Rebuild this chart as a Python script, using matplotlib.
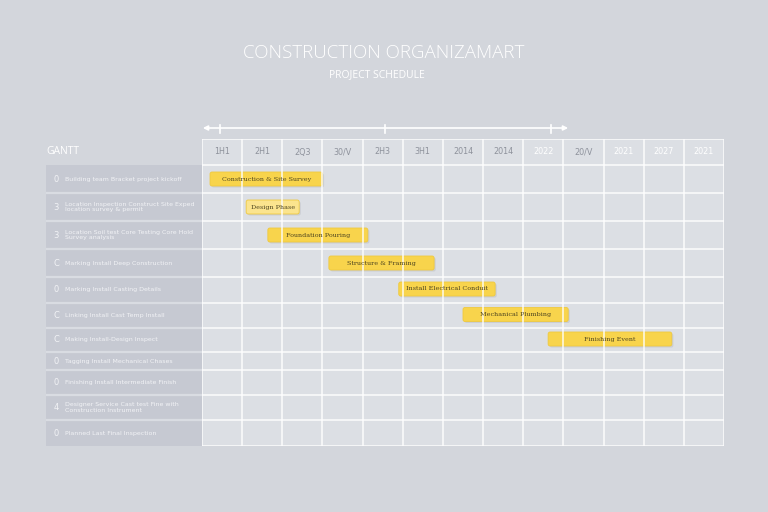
import matplotlib
matplotlib.use("Agg")
import matplotlib.pyplot as plt
from matplotlib.patches import FancyBboxPatch, Rectangle

# ---------------- data ----------------
title = "CONSTRUCTION ORGANIZAMART"
subtitle = "PROJECT SCHEDULE"
corner_label = "GANTT"

header_labels = ["1H1", "2H1", "2Q3", "30/V", "2H3", "3H1", "2014",
                 "2014", "2022", "20/V", "2021", "2027", "2021"]
header_white = [False, False, False, False, False, False, False,
                False, True, False, True, True, True]

row_numbers = ["0", "3", "3", "C", "0", "C", "C", "0", "0", "4", "0"]
row_labels = [
    "Building team Bracket project kickoff",
    "Location Inspection Construct Site Exped\nlocation survey & permit",
    "Location Soil test Core Testing Core Hold\nSurvey analysis",
    "Marking Install Deep Construction",
    "Marking Install Casting Details",
    "Linking Install Cast Temp Install",
    "Making Install-Design Inspect",
    "Tagging Install Mechanical Chases",
    "Finishing Install Intermediate Finish",
    "Designer Service Cast test Fine with\nConstruction Instrument",
    "Planned Last Final Inspection",
]

tasks = ["Construction & Site Survey", "Design Phase", "Foundation Pouring",
         "Structure & Framing", "Install Electrical Conduit",
         "Mechanical Plumbing", "Finishing Event"]
task_rows = [0, 1, 2, 3, 4, 5, 6]
task_start = [0.20, 1.10, 1.64, 3.16, 4.90, 6.50, 8.62]
task_end = [3.00, 2.42, 4.13, 5.78, 7.30, 9.12, 11.70]
task_light = [False, True, False, False, False, False, False]

# ---------------- layout ----------------
W, H = 768, 512
row_bounds = [165, 193, 221, 249, 277, 303, 328, 352, 370, 395, 420, 446]
row_centers = [(a + b) / 2 for a, b in zip(row_bounds[:-1], row_bounds[1:])]
ncols = len(header_labels)

BG = "#d3d6dc"
PANEL = "#c6c9d2"
GRIDFILL = "#dcdfe4"
BAR = "#f8d44c"
BAR_LIGHT = "#fbe48e"

fig = plt.figure(figsize=(W / 100, H / 100), dpi=100, facecolor=BG)

def px_axes(x0, y0, x1, y1):
    return fig.add_axes([x0 / W, 1 - y1 / H, (x1 - x0) / W, (y1 - y0) / H])

# titles
fig.text(384 / W, 1 - 53 / H, title, ha="center", va="center",
         fontsize=13.5, color="white", family="Open Sans", fontweight="light")
fig.text(377 / W, 1 - 75 / H, subtitle, ha="center", va="center",
         fontsize=7.5, color="white", family="Open Sans")
fig.text(46 / W, 1 - 151 / H, corner_label, ha="left", va="center",
         fontsize=7.5, color="white", family="Open Sans")

# ---------------- label panel ----------------
axl = px_axes(46, 165, 202, 446)
axl.set_xlim(46, 202)
axl.set_ylim(446, 165)
axl.axis("off")
axl.add_patch(Rectangle((46, 165), 156, 281, facecolor=PANEL, edgecolor="none"))
for yb in row_bounds[1:-1]:
    axl.axhline(yb, color="#d9dce2", lw=1.6)
for i, (num, lab) in enumerate(zip(row_numbers, row_labels)):
    yc = row_centers[i]
    axl.text(56, yc, num, ha="center", va="center", fontsize=6,
             color="#f2f3f6", family="DejaVu Sans")
    axl.text(65, yc, lab, ha="left", va="center", fontsize=4.5,
             color="#f2f3f6", family="DejaVu Sans", linespacing=1.1)

# ---------------- grid panel ----------------
ax = px_axes(202, 139, 724, 446)
ax.set_xlim(0, ncols)
ax.set_ylim(446, 139)
ax.axis("off")
ax.add_patch(Rectangle((0, 139), ncols, 307, facecolor=GRIDFILL, edgecolor="none"))
for c in range(ncols + 1):
    ax.axvline(c, color="white", lw=1.1, alpha=0.9)
for yb in [139] + row_bounds:
    ax.axhline(yb, color="white", lw=1.1, alpha=0.9)
for c, (lab, wh) in enumerate(zip(header_labels, header_white)):
    ax.text(c + 0.5, 152, lab, ha="center", va="center", fontsize=5.8,
            color="white" if wh else "#8e929c", family="DejaVu Sans")

# top arrow axis
ax.annotate("", xy=(9.12, 128), xytext=(0.02, 128), xycoords="data",
            arrowprops=dict(arrowstyle="<|-|>", color="white", lw=1.2,
                            mutation_scale=7, shrinkA=0, shrinkB=0),
            annotation_clip=False)
for tx in [0.45, 4.56, 8.70]:
    ax.plot([tx, tx], [125, 133], color="white", lw=1.2, clip_on=False)

# bars
bh = 14
for name, r, s, e, light in zip(tasks, task_rows, task_start, task_end, task_light):
    yc = row_centers[r] if r < 4 else row_centers[r] - 1
    sh = FancyBboxPatch((s + 0.04, yc - bh / 2 + 1.5), e - s, bh,
                        boxstyle="round,pad=0,rounding_size=0.05",
                        mutation_aspect=40, facecolor="#9a9ca3", alpha=0.25,
                        edgecolor="none")
    ax.add_patch(sh)
    p = FancyBboxPatch((s, yc - bh / 2), e - s, bh,
                       boxstyle="round,pad=0,rounding_size=0.05",
                       mutation_aspect=40,
                       facecolor=BAR_LIGHT if light else BAR,
                       edgecolor="#efc93e", lw=0.6)
    ax.add_patch(p)
    ax.text((s + e) / 2, yc, name, ha="center", va="center", fontsize=4.6,
            color="#4e4520", family="DejaVu Serif")

fig.savefig("out.png", dpi=100, facecolor=BG)
